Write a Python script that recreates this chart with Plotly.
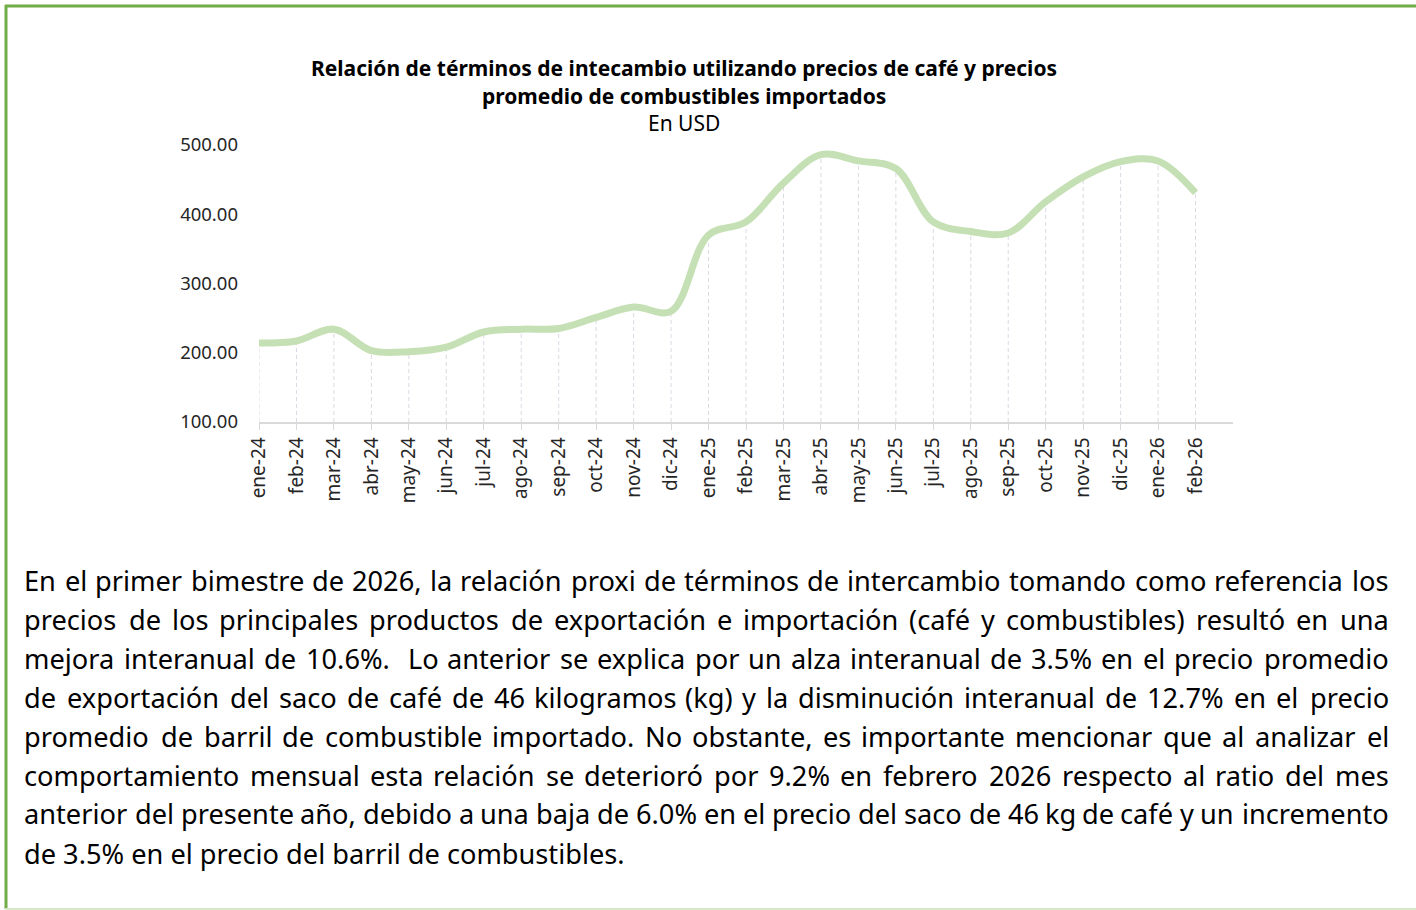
import plotly.graph_objects as go

months = ["ene-24", "feb-24", "mar-24", "abr-24", "may-24", "jun-24", "jul-24", "ago-24",
          "sep-24", "oct-24", "nov-24", "dic-24", "ene-25", "feb-25", "mar-25", "abr-25",
          "may-25", "jun-25", "jul-25", "ago-25", "sep-25", "oct-25", "nov-25", "dic-25",
          "ene-26", "feb-26"]
ratio = [214, 217, 234, 203, 201.5, 208, 230, 234, 235, 251, 266, 260, 370, 389,
         445, 486, 477, 466, 389, 375, 373, 418, 454, 476, 477, 431]

y_ticks = [100, 200, 300, 400, 500]

title_lines = ["Relación de términos de intecambio utilizando precios de café y precios",
               "promedio de combustibles importados"]
subtitle = "En USD"

paragraph = [
    "En el primer bimestre de 2026, la relación proxi de términos de intercambio tomando como referencia los",
    "precios de los principales productos de exportación e importación (café y combustibles) resultó en una",
    "mejora interanual de 10.6%.  Lo anterior se explica por un alza interanual de 3.5% en el precio promedio",
    "de exportación del saco de café de 46 kilogramos (kg) y la disminución interanual de 12.7% en el precio",
    "promedio de barril de combustible importado. No obstante, es importante mencionar que al analizar el",
    "comportamiento mensual esta relación se deterioró por 9.2% en febrero 2026 respecto al ratio del mes",
    "anterior del presente año, debido a una baja de 6.0% en el precio del saco de 46 kg de café y un incremento",
    "de 3.5% en el precio del barril de combustibles.",
]

W, H = 1416, 910
L, R = 259, 1233   # plot area px
T, B = 145, 422

def px(xp):
    return (xp - L) / (R - L)

def py(yp):
    return (B - yp) / (B - T)

FONT = "Noto Sans"
PFS = 27.2

# approximate advance widths (units of 2048 em) used only to lay out justified text
CW = {' ': 532, '(': 606, ')': 606, ',': 502, '.': 545, '%': 1686, '-': 659,
      'E': 1139, 'L': 1063, 'N': 1544,
      'a': 1139, 'b': 1255, 'c': 975, 'd': 1255, 'e': 1149, 'f': 694, 'g': 1122, 'h': 1257,
      'i': 518, 'j': 518, 'k': 1075, 'l': 518, 'm': 1905, 'n': 1257, 'o': 1237, 'p': 1255,
      'q': 1255, 'r': 836, 's': 977, 't': 723, 'u': 1257, 'v': 1026, 'w': 1593, 'x': 1073,
      'y': 1028, 'z': 977, 'á': 1139, 'é': 1149, 'í': 518, 'ó': 1237, 'ú': 1257, 'ñ': 1257}

def tw(s):
    return sum(CW.get(ch, 1171) for ch in s) * PFS / 2048

# natural widths of lines measured from a render at 23px
meas23 = [1137, 1105, 1121, 1110, 1114, 1110, 1160]

fig = go.Figure()

# drop lines
dx, dy = [], []
for m, v in zip(months, ratio):
    dx += [m, m, None]
    dy += [y_ticks[0], v, None]
fig.add_trace(go.Scatter(x=dx, y=dy, mode="lines",
                         line=dict(color="#D9D9E4", width=1, dash="4px,3px"),
                         hoverinfo="skip", showlegend=False))

fig.add_trace(go.Scatter(x=months, y=ratio, mode="lines",
                         line=dict(color="#C5E0B4", width=7, shape="spline", smoothing=1.0),
                         showlegend=False))

fig.update_xaxes(type="category", range=[0, 26], showgrid=False, showline=True,
                 linecolor="#D9D9D9", linewidth=1.5, ticks="outside", ticklen=6,
                 tickcolor="#D9D9D9", tickangle=-90,
                 tickfont=dict(family=FONT, size=19, color="#262626"), zeroline=False)
fig.update_yaxes(range=[100, 500], tickvals=y_ticks,
                 ticktext=[f"{v:.2f}" for v in y_ticks], showgrid=False, showline=False,
                 zeroline=False, ticklabelstandoff=20,
                 tickfont=dict(family=FONT, size=18.5, color="#262626"))

anns = []
anns.append(dict(text="<b>" + title_lines[0] + "</b>", x=px(684), y=py(68), xref="paper", yref="paper",
                 xanchor="center", yanchor="middle", showarrow=False,
                 font=dict(family=FONT, size=21, color="#000000")))
anns.append(dict(text="<b>" + title_lines[1] + "</b>", x=px(684), y=py(96), xref="paper", yref="paper",
                 xanchor="center", yanchor="middle", showarrow=False,
                 font=dict(family=FONT, size=21, color="#000000")))
anns.append(dict(text=subtitle, x=px(684), y=py(123), xref="paper", yref="paper",
                 xanchor="center", yanchor="middle", showarrow=False,
                 font=dict(family=FONT, size=21, color="#000000")))

XL, XR = 22, 1391
for i, line in enumerate(paragraph):
    yy = 580 + 39 * i
    if i == len(paragraph) - 1:
        anns.append(dict(text=line, x=px(XL), y=py(yy), xref="paper", yref="paper",
                         xanchor="left", yanchor="middle", showarrow=False,
                         font=dict(family=FONT, size=PFS, color="#000000")))
        continue
    words = line.split(" ")
    est = tw(line)
    k = (meas23[i] * PFS / 23) / est
    ww = [tw(w) * k for w in words]
    gap = (XR - 3 - (XL + 3) - sum(ww)) / (len(words) - 1)
    x = XL + 3
    for j, (w, wpx) in enumerate(zip(words, ww)):
        if w:
            if j == len(words) - 1:
                anns.append(dict(text=w, x=px(XR), y=py(yy), xref="paper", yref="paper",
                                 xanchor="right", yanchor="middle", showarrow=False,
                                 font=dict(family=FONT, size=PFS, color="#000000")))
            elif j == 0:
                anns.append(dict(text=w, x=px(XL), y=py(yy), xref="paper", yref="paper",
                                 xanchor="left", yanchor="middle", showarrow=False,
                                 font=dict(family=FONT, size=PFS, color="#000000")))
            else:
                anns.append(dict(text=w, x=px(x + wpx / 2), y=py(yy), xref="paper", yref="paper",
                                 xanchor="center", yanchor="middle", showarrow=False,
                                 font=dict(family=FONT, size=PFS, color="#000000")))
        x += wpx + gap

shapes = [
    dict(type="line", xref="paper", yref="paper", x0=px(6), x1=px(6), y0=py(5), y1=py(909),
         line=dict(color="#70AD47", width=3)),
    dict(type="line", xref="paper", yref="paper", x0=px(5), x1=px(1416), y0=py(6), y1=py(6),
         line=dict(color="#70AD47", width=3)),
    dict(type="line", xref="paper", yref="paper", x0=px(5), x1=px(1416), y0=py(909), y1=py(909),
         line=dict(color="#D6E9C8", width=2)),
]

fig.update_layout(width=W, height=H, margin=dict(l=L, r=W - R, t=T, b=H - B, autoexpand=False),
                  paper_bgcolor="white", plot_bgcolor="white", annotations=anns, shapes=shapes,
                  showlegend=False)

fig.write_html("out.html", config={"displayModeBar": False},
               post_script="document.body.style.margin='0';document.body.style.padding='0';")
